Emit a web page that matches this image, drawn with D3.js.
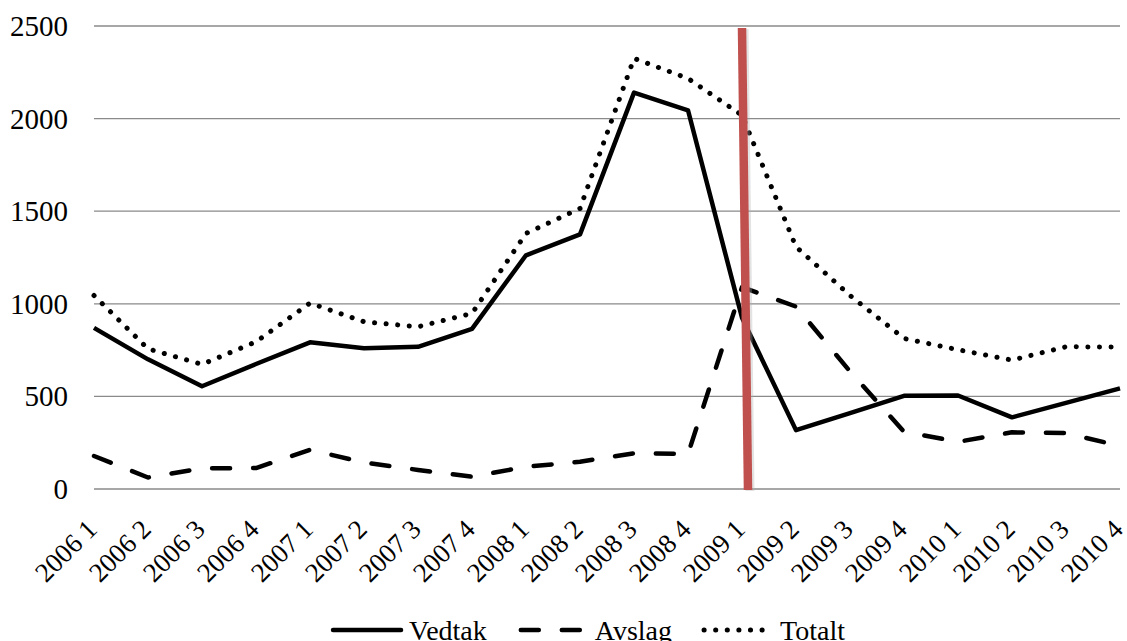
<!DOCTYPE html>
<html>
<head>
<meta charset="utf-8">
<script src="https://cdn.jsdelivr.net/npm/d3@7/dist/d3.min.js"></script>
<style>
  html, body { margin: 0; padding: 0; background: #fff; }
  svg { display: block; }
</style>
</head>
<body>
<svg id="chart" width="1127" height="641"></svg>
<script>
const categories = ["2006 1","2006 2","2006 3","2006 4","2007 1","2007 2","2007 3","2007 4",
  "2008 1","2008 2","2008 3","2008 4","2009 1","2009 2","2009 3","2009 4",
  "2010 1","2010 2","2010 3","2010 4"];
const vedtak = [870, 700, 555, 675, 792, 760, 768, 865, 1262, 1375, 2140, 2045, 925, 318, 410, 503, 505, 387, 465, 543];
const avslag = [178, 62, 112, 113, 212, 143, 103, 66, 120, 147, 193, 189, 1090, 985, 635, 309, 255, 306, 302, 232];
const totalt = [1045, 757, 673, 795, 1004, 903, 876, 948, 1380, 1515, 2325, 2217, 2018, 1308, 1045, 813, 752, 696, 768, 766];
const yTicks = [0, 500, 1000, 1500, 2000, 2500];
const seriesNames = ["Vedtak", "Avslag", "Totalt"];
const markerCategory = "2009 1";

// pick an installed Times-like serif font
function pickFont() {
  const cands = ["Liberation Serif", "Times New Roman", "Tinos", "Nimbus Roman", "Nimbus Roman No9 L", "Noto Serif", "DejaVu Serif"];
  const c = document.createElement("canvas").getContext("2d");
  const probe = "Vedtak 2006 AvslagTotalt mmmWWiil";
  const base = ["monospace", "sans-serif"].map(b => { c.font = "40px " + b; return c.measureText(probe).width; });
  for (const f of cands) {
    const ok = ["monospace", "sans-serif"].some((b, i) => {
      c.font = `40px "${f}", ${b}`;
      return Math.abs(c.measureText(probe).width - base[i]) > 0.5;
    });
    if (ok) return `"${f}"`;
  }
  return "serif";
}
const FONT = pickFont();
const isDejaVu = FONT.indexOf("DejaVu") >= 0;
const fs = isDejaVu ? 0.86 : 1;

const svg = d3.select("#chart").style("font-family", FONT);
const x = d3.scalePoint().domain(categories).range([94, 1120]).padding(0);
const y = d3.scaleLinear().domain([0, 2500]).range([489, 26]);

// gridlines
svg.append("g").selectAll("line").data(yTicks).join("line")
  .attr("x1", 94).attr("x2", 1120)
  .attr("y1", d => y(d)).attr("y2", d => y(d))
  .attr("stroke", "#8a8a8a").attr("stroke-width", 1.3);

// y axis labels
const yAxis = d3.axisLeft(y).tickValues(yTicks).tickSize(0).tickPadding(0).tickFormat(d3.format("d"));
const gy = svg.append("g").attr("transform", "translate(68,0)").call(yAxis);
gy.attr("font-family", FONT);
gy.select(".domain").remove();
gy.selectAll("text").attr("font-size", 29 * fs).attr("fill", "#000").attr("dy", "0.33em");

// x axis labels
const xAxis = d3.axisBottom(x).tickSize(0).tickPadding(0);
const gx = svg.append("g").attr("transform", "translate(0,489)").call(xAxis);
gx.attr("font-family", FONT);
gx.select(".domain").remove();
gx.selectAll("text")
  .attr("font-size", 27 * fs).attr("fill", "#000")
  .attr("text-anchor", "end")
  .attr("y", 0).attr("dy", 0)
  .attr("transform", "translate(4,42) rotate(-45)");

const line = d3.line().x((d, i) => x(categories[i])).y(d => y(d));

const styles = {
  Vedtak: { dash: null, cap: "butt", width: 4.5 },
  Avslag: { dash: "18 23", cap: "round", width: 4.5 },
  Totalt: { dash: "0.1 11.5", cap: "round", width: 5 }
};
const data = { Vedtak: vedtak, Avslag: avslag, Totalt: totalt };

seriesNames.forEach(name => {
  const s = styles[name];
  svg.append("path").datum(data[name])
    .attr("d", line)
    .attr("fill", "none")
    .attr("stroke", "#000")
    .attr("stroke-width", s.width)
    .attr("stroke-linecap", s.cap)
    .attr("stroke-linejoin", "round")
    .attr("stroke-dasharray", s.dash);
});

// red marker line at 2009 1
const mx = x(markerCategory);
svg.append("line")
  .attr("x1", mx + 2).attr("x2", mx + 8)
  .attr("y1", y(2500) + 3).attr("y2", y(0) + 2)
  .attr("stroke", "#b0b0b0").attr("stroke-width", 9).attr("opacity", 0.35);
svg.append("line")
  .attr("x1", mx).attr("x2", mx + 6)
  .attr("y1", y(2500) + 2).attr("y2", y(0) + 1)
  .attr("stroke", "#c0504d").attr("stroke-width", 8.5);

// legend
const legend = svg.append("g").attr("font-family", FONT);
const sampleLen = 68, gapST = 8, gapItem = 32, legY = 630;
const items = [];
seriesNames.forEach(name => {
  const g = legend.append("g");
  const s = styles[name];
  g.append("line").attr("x1", 0).attr("x2", sampleLen).attr("y1", 0).attr("y2", 0)
    .attr("stroke", "#000").attr("stroke-width", s.width)
    .attr("stroke-linecap", name === "Vedtak" ? "round" : s.cap)
    .attr("stroke-dasharray", s.dash)
    .attr("transform", name === "Avslag" ? "translate(2,0)" : null);
  const t = g.append("text").attr("x", sampleLen + gapST).attr("y", 10)
    .attr("font-size", 28 * fs).attr("fill", "#000").text(name);
  const w = sampleLen + gapST + t.node().getComputedTextLength();
  items.push({ g, w });
});
const total = d3.sum(items, d => d.w) + gapItem * (items.length - 1);
let start = 589 - total / 2;
items.forEach(it => {
  it.g.attr("transform", `translate(${start},${legY})`);
  start += it.w + gapItem;
});
</script>
</body>
</html>
